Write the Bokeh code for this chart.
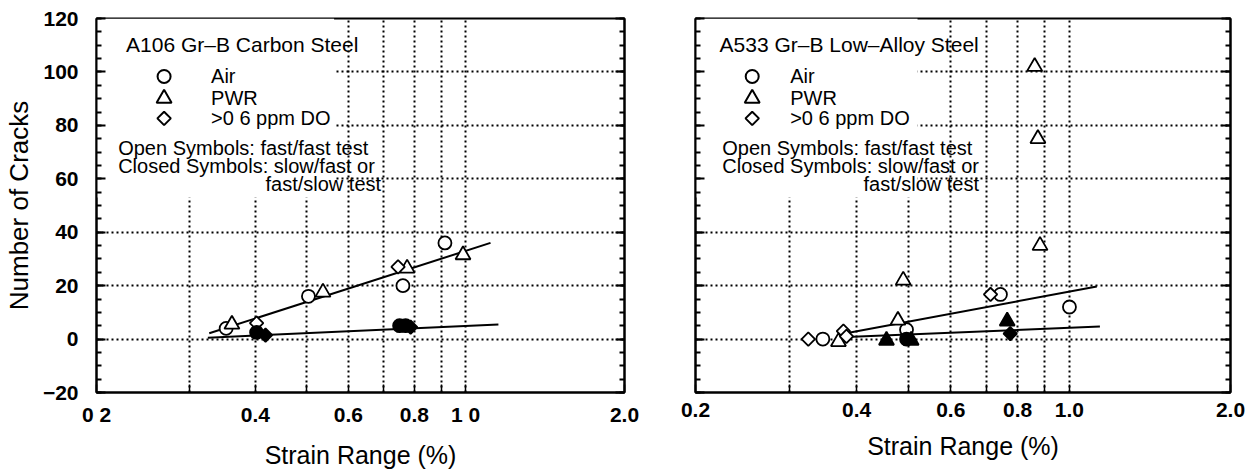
import math

from bokeh.plotting import figure
from bokeh.models import FixedTicker, LinearAxis, Label, CustomJSTickFormatter
from bokeh.layouts import row
from bokeh.embed import file_html
from bokeh.resources import INLINE

X_MIN, X_MAX = 0.2, 2.0
Y_MIN, Y_MAX = -20, 120

x_ticks = [0.2, 0.4, 0.6, 0.8, 1.0, 2.0]
x_minor = [0.3, 0.5, 0.7, 0.9]
x_grid = [0.3, 0.4, 0.5, 0.6, 0.7, 0.8, 0.9, 1.0]
x_labels_cs = ["0 2", "0.4", "0.6", "0.8", "1 0", "2.0"]
x_labels_las = ["0.2", "0.4", "0.6", "0.8", "1.0", "2.0"]
y_ticks = [-20, 0, 20, 40, 60, 80, 100, 120]
y_minor = list(range(-20, 121, 5))
y_grid = [0, 20, 40, 60, 80, 100]

# A106 Gr-B carbon steel
cs_air_open_x = [0.352, 0.504, 0.761, 0.914]
cs_air_open_y = [4, 16, 20, 36]
cs_pwr_open_x = [0.361, 0.537, 0.775, 0.989]
cs_pwr_open_y = [5.5, 17.5, 26.5, 31.5]
cs_do_open_x = [0.402, 0.745]
cs_do_open_y = [6, 27]
cs_air_closed_x = [0.402, 0.750, 0.770]
cs_air_closed_y = [2.5, 5, 5]
cs_pwr_closed_x = []
cs_pwr_closed_y = []
cs_do_closed_x = [0.418, 0.787]
cs_do_closed_y = [1.5, 4.5]
cs_fit_open_x = [0.327, 1.115]
cs_fit_open_y = [2.2, 36]
cs_fit_closed_x = [0.325, 1.154]
cs_fit_closed_y = [0.5, 5.5]

# A533 Gr-B low-alloy steel
las_air_open_x = [0.346, 0.496, 0.743, 1.0]
las_air_open_y = [0, 3.5, 16.7, 12]
las_pwr_open_x = [0.370, 0.478, 0.489, 0.881, 0.873, 0.861]
las_pwr_open_y = [-1, 7, 22, 35, 75, 102]
las_do_open_x = [0.325, 0.378, 0.383, 0.712]
las_do_open_y = [0, 3, 1, 16.7]
las_air_closed_x = [0.496]
las_air_closed_y = [0]
las_pwr_closed_x = [0.455, 0.506, 0.765]
las_pwr_closed_y = [-0.5, -0.5, 6.7]
las_do_closed_x = [0.775]
las_do_closed_y = [2]
las_fit_open_x = [0.378, 1.125]
las_fit_open_y = [2, 19.7]
las_fit_closed_x = [0.373, 1.14]
las_fit_closed_y = [0.7, 4.7]

FONT = "Liberation Sans"
INK = "black"

MARKERS = {
    "circle": dict(marker="circle", size=13, angle=0),
    "triangle": dict(marker="triangle", size=15, angle=0),
    "diamond": dict(marker="square", size=9.5, angle=math.pi / 4),
}


def frac_x(f):
    return X_MIN * (X_MAX / X_MIN) ** f


def label_formatter(labels):
    return CustomJSTickFormatter(
        args=dict(tvals=x_ticks, tlabels=labels),
        code="const i = tvals.findIndex(t => Math.abs(t - tick) < 1e-9); return i >= 0 ? tlabels[i] : '';",
    )


def style_y_axis(ax, show_labels):
    ax.ticker = FixedTicker(ticks=y_ticks, minor_ticks=y_minor)
    ax.axis_line_width = 2
    ax.axis_line_color = INK
    ax.major_tick_in = 9
    ax.major_tick_out = 0
    ax.minor_tick_in = 5
    ax.minor_tick_out = 0
    ax.major_tick_line_width = 2
    ax.minor_tick_line_width = 2
    if show_labels:
        ax.major_label_text_font = FONT
        ax.major_label_text_font_style = "bold"
        ax.major_label_text_font_size = "21px"
        ax.major_label_text_color = INK
        ax.major_label_standoff = 18
    else:
        ax.formatter = CustomJSTickFormatter(code="return '';")
        ax.major_label_text_font_size = "0px"


def add_text(p, x, y, text, size, align="left"):
    p.add_layout(Label(x=x, y=y, text=text, text_font=FONT, text_font_size=size,
                       text_baseline="middle", text_align=align, text_color=INK))


def make_panel(series, fits, legend_cfg, tick_labels, width, border_left, border_right, y_title):
    p = figure(
        width=width, height=472, x_axis_type="log",
        x_range=(X_MIN, X_MAX), y_range=(Y_MIN, Y_MAX),
        output_backend="svg", toolbar_location=None,
        min_border_left=border_left, min_border_right=border_right,
        min_border_top=18, min_border_bottom=80,
        background_fill_color="white", border_fill_color="white",
    )
    p.outline_line_color = INK
    p.outline_line_width = 2

    # bottom axis
    xa = p.xaxis[0]
    xa.ticker = FixedTicker(ticks=x_ticks, minor_ticks=x_minor)
    xa.formatter = label_formatter(tick_labels)
    xa.axis_line_width = 2
    xa.axis_line_color = INK
    xa.major_tick_in = 8
    xa.major_tick_out = 0
    xa.minor_tick_in = 8
    xa.minor_tick_out = 0
    xa.major_tick_line_width = 1.5
    xa.minor_tick_line_width = 1.5
    xa.major_label_text_font = FONT
    xa.major_label_text_font_style = "bold"
    xa.major_label_text_font_size = "21px"
    xa.major_label_text_color = INK
    xa.major_label_standoff = 10
    xa.axis_label = "Strain Range (%)"
    xa.axis_label_text_font = FONT
    xa.axis_label_text_font_style = "normal"
    xa.axis_label_text_font_size = "25px"
    xa.axis_label_text_color = INK
    xa.axis_label_standoff = 12

    ya = p.yaxis[0]
    style_y_axis(ya, y_title is not None)
    if y_title is not None:
        ya.axis_label = y_title
        ya.axis_label_text_font = FONT
        ya.axis_label_text_font_style = "normal"
        ya.axis_label_text_font_size = "26px"
        ya.axis_label_text_color = INK
        ya.axis_label_standoff = 6

    ra = LinearAxis()
    style_y_axis(ra, False)
    p.add_layout(ra, "right")

    # dotted grid
    p.xgrid.ticker = FixedTicker(ticks=x_grid)
    p.ygrid.ticker = FixedTicker(ticks=y_grid)
    for g in (p.xgrid[0], p.ygrid[0]):
        g.grid_line_color = INK
        g.grid_line_width = 2
        g.grid_line_dash = "2 3"
        g.grid_line_alpha = 1.0

    title, title_f, sym_f, txt_f, note_f, note_r, box_f, ys = legend_cfg

    # keep the key area clear of grid lines
    p.quad(left=[X_MIN], right=[frac_x(box_f)], bottom=[53], top=[Y_MAX],
           fill_color="white", line_color=None)

    # trend lines
    for fx, fy in fits:
        p.line(fx, fy, line_color=INK, line_width=2)

    # data symbols
    for xs, ys_, marker, filled in series:
        if not xs:
            continue
        p.scatter(xs, ys_, **MARKERS[marker],
                  fill_color=INK if filled else "white",
                  line_color=INK, line_width=1.8)

    # key
    add_text(p, frac_x(title_f), ys[0], title, "21px")
    entries = [("circle", "Air"), ("triangle", "PWR"), ("diamond", ">0 6 ppm DO")]
    for (m, t), yy in zip(entries, ys[1:4]):
        p.scatter([frac_x(sym_f)], [yy], **MARKERS[m],
                  fill_color="white", line_color=INK, line_width=2)
        add_text(p, frac_x(txt_f), yy, t, "20px")
    add_text(p, frac_x(note_f), ys[4], "Open Symbols: fast/fast test", "20px")
    add_text(p, frac_x(note_f), ys[5], "Closed Symbols: slow/fast or", "20px")
    add_text(p, frac_x(note_r), ys[6], "fast/slow test", "20px", align="right")
    return p


cs_series = [
    (cs_air_open_x, cs_air_open_y, "circle", False),
    (cs_pwr_open_x, cs_pwr_open_y, "triangle", False),
    (cs_do_open_x, cs_do_open_y, "diamond", False),
    (cs_air_closed_x, cs_air_closed_y, "circle", True),
    (cs_pwr_closed_x, cs_pwr_closed_y, "triangle", True),
    (cs_do_closed_x, cs_do_closed_y, "diamond", True),
]
las_series = [
    (las_air_open_x, las_air_open_y, "circle", False),
    (las_pwr_open_x, las_pwr_open_y, "triangle", False),
    (las_do_open_x, las_do_open_y, "diamond", False),
    (las_air_closed_x, las_air_closed_y, "circle", True),
    (las_pwr_closed_x, las_pwr_closed_y, "triangle", True),
    (las_do_closed_x, las_do_closed_y, "diamond", True),
]

key_y = [110.3, 98.3, 90.1, 82.6, 71.7, 64.6, 58.2]

left = make_panel(
    cs_series,
    [(cs_fit_open_x, cs_fit_open_y), (cs_fit_closed_x, cs_fit_closed_y)],
    ("A106 Gr\u2013B Carbon Steel", 0.056, 0.128, 0.217, 0.041, 0.539, 0.45, key_y),
    x_labels_cs, 660, 93, 36, "Number of Cracks",
)
right = make_panel(
    las_series,
    [(las_fit_open_x, las_fit_open_y), (las_fit_closed_x, las_fit_closed_y)],
    ("A533 Gr\u2013B Low\u2013Alloy Steel", 0.045, 0.106, 0.177, 0.05, 0.53, 0.415, key_y),
    x_labels_las, 590, 35, 20, None,
)

layout = row(left, right)
open("out.html", "w").write(file_html(layout, INLINE))
